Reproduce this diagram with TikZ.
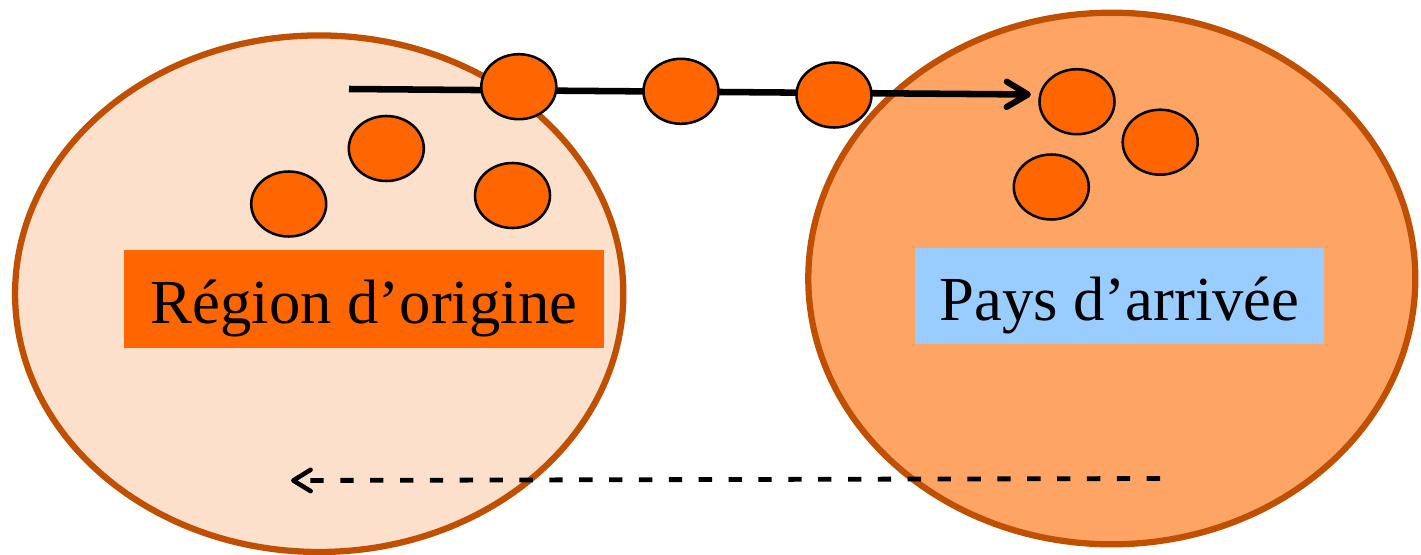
\documentclass[tikz,border=0pt]{standalone}
\usepackage{fontspec}
\setmainfont{Liberation Serif}
\usetikzlibrary{shapes.geometric,arrows.meta}
\definecolor{rim}{RGB}{192,80,0}
\definecolor{peach}{RGB}{253,224,204}
\definecolor{apricot}{RGB}{254,165,102}
\definecolor{dot}{RGB}{255,102,0}
\definecolor{sky}{RGB}{153,204,255}
\tikzset{
  region/.style={ellipse,draw=rim,line width=4.7pt,inner sep=0pt,outer sep=0pt},
  person/.style={ellipse,draw=black,fill=dot,line width=1.9pt,minimum width=56.25pt,minimum height=48.75pt,inner sep=0pt},
  label/.style={rectangle,inner sep=0pt,align=center,font=\fontsize{47}{56}\selectfont},
  flow/.style={line width=4.9pt,-{Straight Barb[length=16pt,width=19pt,line width=4.6pt,line cap=round,line join=round]}},
  back/.style={line width=3.6pt,dash pattern=on 10pt off 12.4pt,-{Straight Barb[length=13pt,width=16pt,line width=3.4pt,line cap=round,line join=round]}}
}
\begin{document}
\begin{tikzpicture}[x=0.75pt,y=-0.75pt]
\useasboundingbox[fill=white] (0,0) rectangle (1421,554);
\node[region,fill=peach,minimum width=456.2pt,minimum height=387.4pt] (orig) at (319.2,293.7) {};
\node[region,fill=apricot,minimum width=455.25pt,minimum height=398.7pt] (arr) at (1111.8,278.5) {};
\node[label,fill=dot,minimum width=360pt,text height=55.3pt,text depth=18.2pt] (lorig) at (364,299) {Région d’origine};
\node[label,fill=sky,minimum width=306.75pt,text height=54.2pt,text depth=17.8pt] (larr) at (1119.5,296) {Pays d’arrivée};
\coordinate (s) at (349,89);
\coordinate (e) at (1031,94.5);
\draw[flow] (s) -- (e);
\coordinate (ds) at (1160,478.5);
\coordinate (de) at (291,480.5);
\draw[back] (ds) -- (de);
\node[person] (m1) at (518.8,86.7) {};
\node[person] (m2) at (681,91.3) {};
\node[person] (m3) at (834,95) {};
\node[person] (a) at (288.7,204) {};
\node[person] (b) at (386.3,148.5) {};
\node[person] (c) at (512.5,195.5) {};
\node[person] (d) at (1077,101.7) {};
\node[person] (f) at (1160.2,142.2) {};
\node[person] (g) at (1051.3,187) {};
\end{tikzpicture}
\end{document}
